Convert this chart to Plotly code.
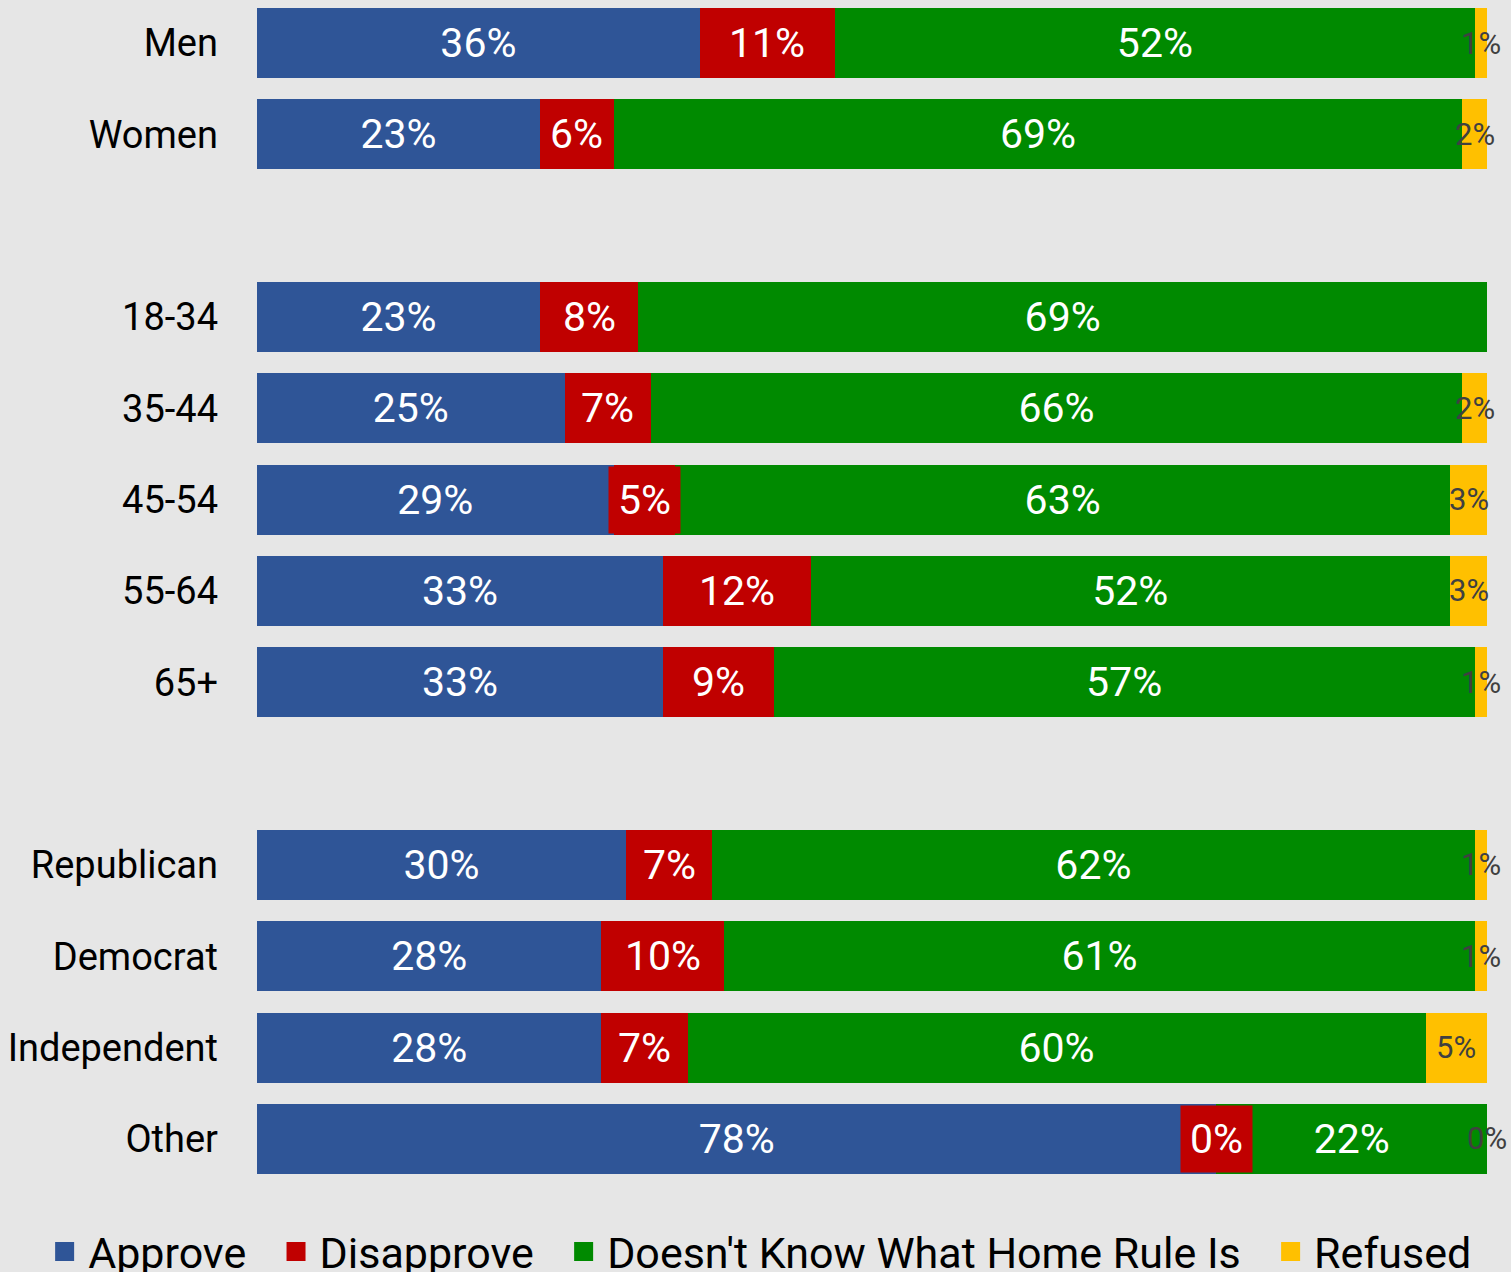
import plotly.graph_objects as go

categories = ["Men", "Women", "", "18-34", "35-44", "45-54", "55-64", "65+", " ",
              "Republican", "Democrat", "Independent", "Other"]
approve = [36, 23, None, 23, 25, 29, 33, 33, None, 30, 28, 28, 78]
disapprove = [11, 6, None, 8, 7, 5, 12, 9, None, 7, 10, 7, 0]
dont_know = [52, 69, None, 69, 66, 63, 52, 57, None, 62, 61, 60, 22]
refused = [1, 2, None, None, 2, 3, 3, 1, None, 1, 1, 5, 0]

series_names = ["Approve", "Disapprove", "Doesn't Know What Home Rule Is", "Refused"]
colors = ["#2f5597", "#c00000", "#008a00", "#ffc000"]

FONT = "Roboto"
ypos = list(range(len(categories)))
PAD = "\u00a0\u00a0"


def labels(vals):
    return [f"{v}%" if v is not None else "" for v in vals]


fig = go.Figure()
all_series = [approve, disapprove, dont_know, refused]
for i, (name, vals, col) in enumerate(zip(series_names, all_series, colors)):
    show_text = i in (0, 2)
    fig.add_trace(go.Bar(
        name=name,
        y=ypos,
        x=vals,
        orientation="h",
        marker=dict(color=col, line=dict(width=0)),
        width=0.766,
        text=labels(vals) if show_text else None,
        textposition="inside" if show_text else "none",
        insidetextanchor="middle",
        textangle=0,
        textfont=dict(family=FONT, size=41, color="white"),
        hoverinfo="skip",
        showlegend=False,
    ))

# legend entries
for name, col in zip(series_names, colors):
    fig.add_trace(go.Scatter(
        name=name + PAD, x=[None], y=[None], mode="markers",
        marker=dict(symbol="square", size=16, color=col, line=dict(color=col, width=3)),
        showlegend=True, hoverinfo="skip",
    ))

annotations = []
for j in range(len(categories)):
    a, d, k, r = approve[j], disapprove[j], dont_know[j], refused[j]
    if d is not None:
        annotations.append(dict(
            x=a + d / 2, y=ypos[j], xref="x", yref="y", text=f"{d}%",
            showarrow=False, bgcolor="#c00000", borderpad=9,
            font=dict(family=FONT, size=41, color="white"),
        ))
    if r is not None:
        annotations.append(dict(
            x=a + d + k + r / 2, y=ypos[j], xref="x", yref="y", text=f"{r}%",
            showarrow=False,
            font=dict(family=FONT, size=31, color="#404040"),
        ))

fig.update_layout(
    barmode="stack",
    width=1511, height=1272,
    margin=dict(l=257, r=24, t=0, b=87, autoexpand=False),
    paper_bgcolor="#e6e6e6",
    plot_bgcolor="#e6e6e6",
    font=dict(family=FONT, color="black"),
    annotations=annotations,
    xaxis=dict(range=[0, 100], showgrid=False, zeroline=False, showticklabels=False,
               fixedrange=True),
    yaxis=dict(range=[12.504, -0.471], tickvals=ypos, ticktext=categories,
               showgrid=False, zeroline=False, ticks="", ticklabelstandoff=38,
               tickfont=dict(family=FONT, size=38, color="black")),
    legend=dict(orientation="h", xref="paper", yref="paper",
                x=-0.1755, xanchor="left", y=-0.027, yanchor="top",
                font=dict(family=FONT, size=43, color="black"),
                traceorder="normal", itemwidth=37, bgcolor="rgba(0,0,0,0)"),
    showlegend=True,
)

fig.write_html("out.html", post_script="document.body.style.margin='0px';",
               config={"displayModeBar": False})
